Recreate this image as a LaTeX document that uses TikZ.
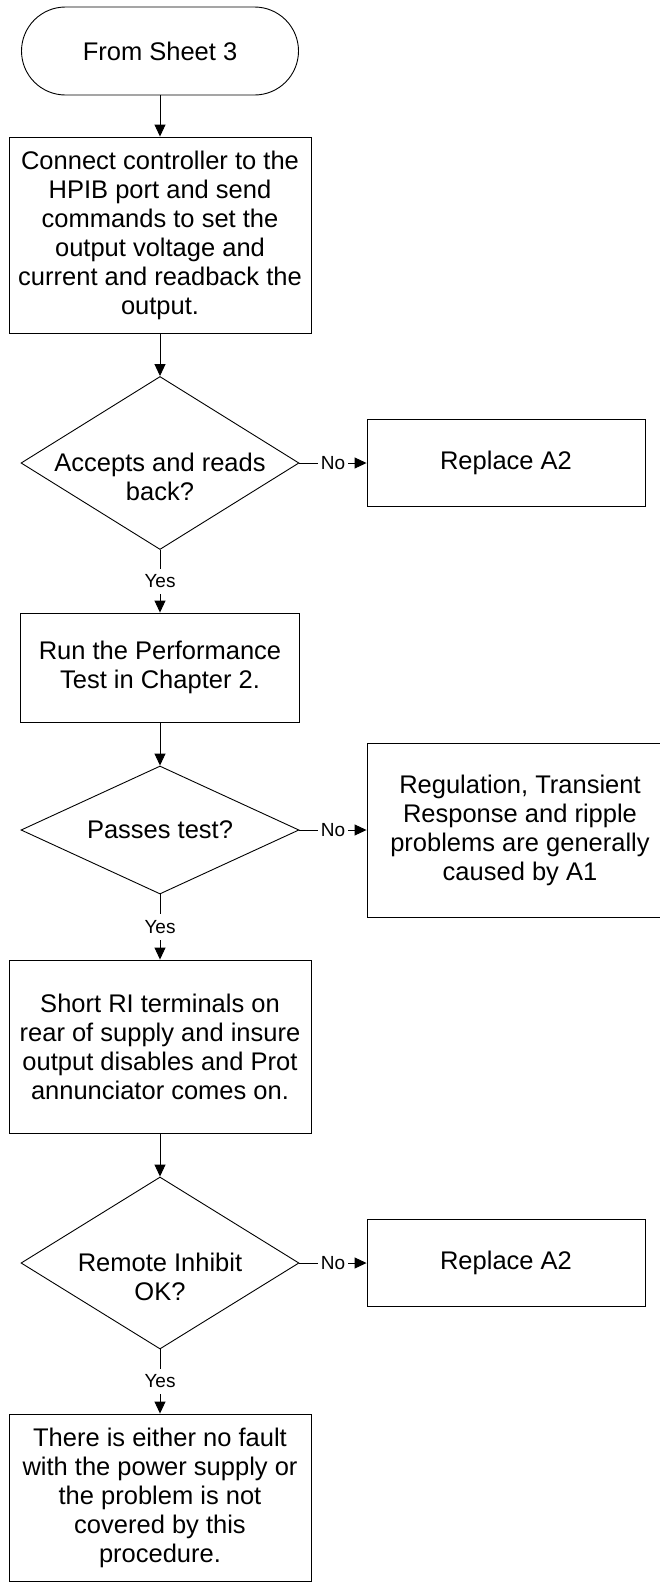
\documentclass[tikz,border=0pt]{standalone}
\usepackage{fontspec}
\setmainfont{Liberation Sans}
\usetikzlibrary{shapes.geometric,arrows.meta}
\begin{document}
\begin{tikzpicture}[x=1pt,y=-1pt,
  box/.style={draw, line width=0.9pt, rectangle, inner sep=0pt, align=center,
    font=\fontsize{25.5}{29}\selectfont},
  dia/.style={draw, line width=0.9pt, diamond, inner sep=0pt},
  txt/.style={align=center, inner sep=0pt, font=\fontsize{25.5}{29}\selectfont},
  lbl/.style={fill=white, inner xsep=3pt, inner ysep=6pt, font=\fontsize{19}{22}\selectfont},
  arr/.style={line width=0.9pt, -{Triangle[length=12pt,width=11pt]}}]
\useasboundingbox (0,0) rectangle (660,1583);
\clip (0,0) rectangle (660,1583);

% nodes
\node[box, rounded corners=44pt, minimum width=277pt, minimum height=88pt] (t) at (160,51) {From Sheet 3};
\node[box, minimum width=302pt, minimum height=196pt] (b1) at (160,235)
  {Connect controller to the\\HPIB port and send\\commands to set the\\output voltage and\\current and readback the\\output.};
\node[dia, minimum width=278pt, minimum height=173pt] (d1) at (160,463) {};
\node[txt] (d1t) at (160,477) {Accepts and reads\\back?};
\node[box, minimum width=278pt, minimum height=87pt] (r1) at (506,463) {Replace A2};
\node[box, minimum width=279pt, minimum height=109pt] (b2) at (160,667.5)
  {Run the Performance\\Test in Chapter 2.};
\node[dia, minimum width=278pt, minimum height=128pt] (d2) at (160,830) {};
\node[txt] (d2t) at (160,830) {Passes test?};
\node[box, minimum width=306pt, minimum height=174pt] (reg) at (520,830)
  {Regulation, Transient\\Response and ripple\\problems are generally\\caused by A1};
\node[box, minimum width=302pt, minimum height=173pt] (b3) at (160,1046.5)
  {Short RI terminals on\\rear of supply and insure\\output disables and Prot\\annunciator comes on.};
\node[dia, minimum width=278pt, minimum height=172pt] (d3) at (160,1263) {};
\node[txt] (d3t) at (160,1277) {Remote Inhibit\\OK?};
\node[box, minimum width=278pt, minimum height=87pt] (r2) at (506,1263) {Replace A2};
\node[box, minimum width=302pt, minimum height=167pt] (b4) at (160,1497.5)
  {There is either no fault\\with the power supply or\\the problem is not\\covered by this\\procedure.};

% connectors
\draw[arr] (t) -- (b1);
\draw[arr] (b1) -- (d1);
\draw[arr] (d1.east) -- node[lbl] {No} (d1.east -| r1.west);
\draw[arr] (d1) -- node[lbl] {Yes} (b2);
\draw[arr] (b2) -- (d2);
\draw[arr] (d2.east) -- node[lbl] {No} (d2.east -| reg.west);
\draw[arr] (d2) -- node[lbl] {Yes} (b3);
\draw[arr] (b3) -- (d3);
\draw[arr] (d3.east) -- node[lbl] {No} (d3.east -| r2.west);
\draw[arr] (d3) -- node[lbl] {Yes} (b4);
\end{tikzpicture}
\end{document}
